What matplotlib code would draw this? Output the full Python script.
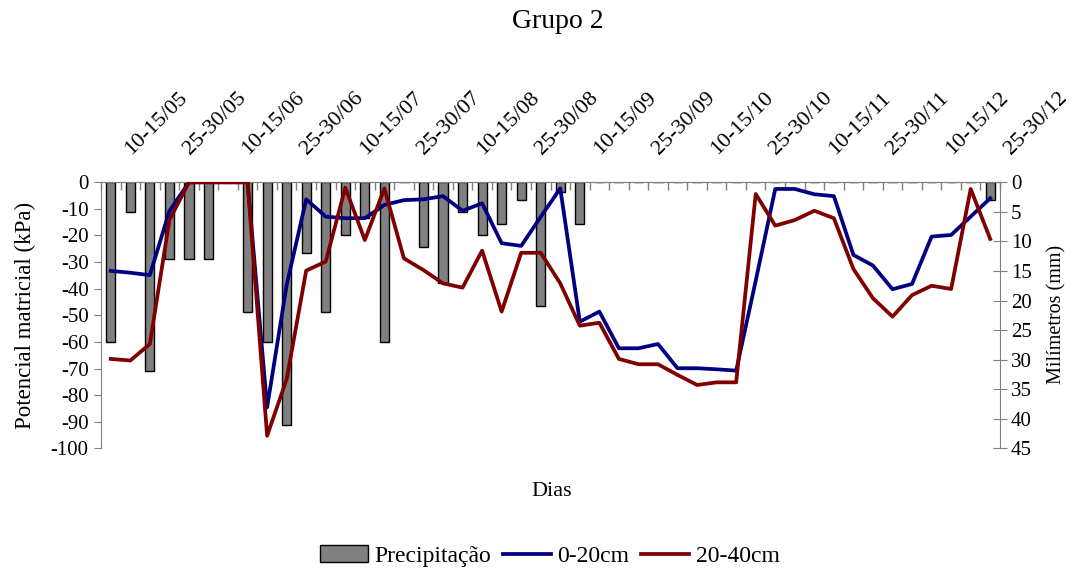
import numpy as np
import matplotlib
matplotlib.use("Agg")
import matplotlib.pyplot as plt
from matplotlib.lines import Line2D
from matplotlib.patches import Patch

plt.rcParams["font.family"] = ["Liberation Serif", "DejaVu Serif"]
plt.rcParams["axes.unicode_minus"] = False

# 46 ten-day periods, label shown on every third one
LABELS = ["10-15/05", "25-30/05", "10-15/06", "25-30/06", "10-15/07", "25-30/07",
          "10-15/08", "25-30/08", "10-15/09", "25-30/09", "10-15/10", "25-30/10",
          "10-15/11", "25-30/11", "10-15/12", "25-30/12"]

# precipitation, mm (right axis, hanging from the top)
PREC = [27, 5, 32, 13, 13, 13, 0, 22, 27, 41, 12, 22, 9, 6, 27, 0,
        11, 17, 5, 9, 7, 3, 21, 1.7, 7, 0, 0, 0, 0, 0, 0, 0,
        0, 0, 0, 0, 0, 0, 0, 0, 0, 0, 0, 0, 0, 3]

# matric potential, kPa
P0_20 = [-33.3, -34, -34.9, -10.8, 0, 0, 0, 0, -84.6, -38.6, -6.4, -12.9, -13.5, -13.5, -8.5, -6.7,
         -6.4, -5.2, -10.7, -7.9, -22.9, -23.9, -13, -2.3, -52.4, -48.6, -62.4, -62.4, -60.8, -69.9,
         -69.9, -70.3, -70.8, -37, -2.5, -2.5, -4.5, -5.2, -27.3, -31.3, -40.2, -38.2, -20.4, -19.8,
         -12.9, -6.0]
P20_40 = [-66.4, -67, -60.8, -14.2, 0, 0, 0, 0, -95.3, -74, -33.2, -29.8, -2.0, -21.7, -2.3, -28.6,
          -33, -38, -39.6, -25.7, -48.6, -26.5, -26.5, -38, -53.9, -52.8, -66.4, -68.4, -68.4, -72.4,
          -76.2, -75.2, -75.2, -4.4, -16.3, -14.2, -10.7, -13.5, -32.6, -43.6, -50.5, -42.4, -38.9,
          -40.1, -2.5, -21.3]

BLUE, RED, GREY, AX = "#000080", "#800000", "#808080", "#808080"
x = np.arange(len(PREC))

fig = plt.figure(figsize=(10.76, 5.74), dpi=100)
ax = fig.add_axes([101 / 1076, 1 - 448.3 / 574, 899 / 1076, 266 / 574])
ax2 = ax.twinx()
ax.set_zorder(ax2.get_zorder() + 1)
ax.patch.set_visible(False)

ax2.bar(x, PREC, width=0.47, color=GREY, edgecolor="black", lw=1.0, zorder=2)
ax2.set_ylim(45, 0)
ax2.set_yticks(np.arange(0, 46, 5))

ax.plot(x, P0_20, color=BLUE, lw=2.7, zorder=3)
ax.plot(x, P20_40, color=RED, lw=2.7, zorder=4)
ax.set_ylim(-100, 0)
ax.set_yticks(np.arange(-100, 1, 10))
ax.set_xlim(-0.5, len(PREC) - 0.5)

# category boundaries on the top axis, ticks pointing into the plot
ax.xaxis.tick_top()
ax.set_xticks(np.arange(-0.5, len(PREC), 1))
ax.set_xticklabels([])
ax.tick_params(axis="x", direction="in", length=6, color=AX, width=1)
for i, lab in enumerate(LABELS):
    ax.annotate(lab, xy=(3 * i + 1.05, 1), xycoords=("data", "axes fraction"),
                xytext=(0, 19.5), textcoords="offset points", rotation=45,
                rotation_mode="anchor", ha="left", va="baseline", fontsize=16)

for a in (ax, ax2):
    for s in a.spines.values():
        s.set_visible(False)
    a.spines["top"].set_visible(True)
    a.spines["top"].set_color(AX)
ax.spines["left"].set_visible(True)
ax.spines["left"].set_color(AX)
ax2.spines["right"].set_visible(True)
ax2.spines["right"].set_color(AX)
ax.tick_params(axis="y", labelsize=15, length=5, color=AX, direction="out", pad=4)
ax2.tick_params(axis="y", labelsize=15, length=10, color=AX, direction="inout", pad=3)

fig.text(25 / 1076, 1 - 315 / 574, "Potencial matricial (kPa)", rotation=90,
         ha="center", va="center", fontsize=16.5)
fig.text(1057 / 1076, 1 - 314 / 574, "Milímetros (mm)", rotation=90,
         ha="center", va="center", fontsize=14.5)

fig.text(552 / 1076, 1 - 492 / 574, "Dias", ha="center", va="center", fontsize=16)
fig.text(558 / 1076, 1 - 21 / 574, "Grupo 2", ha="center", va="center", fontsize=20)

handles = [Patch(facecolor=GREY, edgecolor="black", lw=1.0),
           Line2D([], [], color=BLUE, lw=2.7),
           Line2D([], [], color=RED, lw=2.7)]
fig.legend(handles, ["Precipitação", "0-20cm", "20-40cm"], loc="center",
           bbox_to_anchor=(550 / 1076, 1 - 556 / 574), ncol=3, frameon=False,
           fontsize=17, handlelength=2.0, handletextpad=0.3, columnspacing=0.5)

fig.savefig("out.png", dpi=100, facecolor="white")
